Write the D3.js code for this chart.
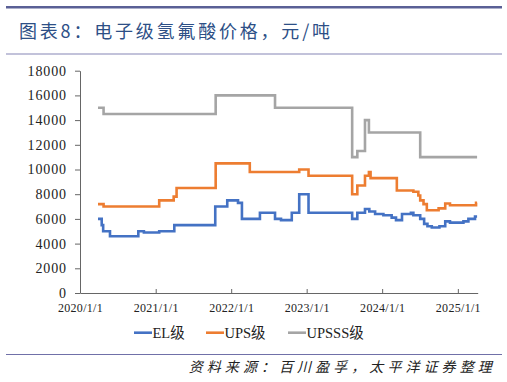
<!DOCTYPE html>
<html>
<head>
<meta charset="utf-8">
<script src="https://cdn.jsdelivr.net/npm/d3@7"></script>
<style>
  html, body { margin: 0; padding: 0; background: #fff; }
  svg { display: block; }
</style>
</head>
<body>
<svg id="chart" width="507" height="382"></svg>
<script>
// ---------- data ----------
const titleText = "图表8：电子级氢氟酸价格，元/吨";
const sourceText = "资料来源：百川盈孚，太平洋证券整理";
const seriesNames = ["EL级", "UPS级", "UPSSS级"];
const seriesColors = ["#4472C4", "#ED7D31", "#A5A5A5"];

const elDates = ["2020-03-28","2020-04-15","2020-04-22","2020-05-25","2020-10-09","2020-11-05","2021-01-18","2021-04-01","2021-10-16","2021-12-13","2022-02-03","2022-02-22","2022-05-20","2022-08-01","2022-08-30","2022-10-21","2022-11-26","2023-01-10","2023-08-09","2023-09-03","2023-10-10","2023-10-31","2023-11-28","2024-01-07","2024-02-16","2024-03-08","2024-04-06","2024-05-19","2024-05-31","2024-07-03","2024-07-22","2024-08-07","2024-08-28","2024-10-04","2024-11-01","2024-11-24","2025-01-28","2025-02-21","2025-03-25","2025-04-04"];
const elValues = [6000,5500,5000,4600,5000,4900,5000,5500,7000,7500,7300,6000,6500,6000,5900,6500,8000,6500,6000,6500,6800,6600,6400,6300,6100,5900,6400,6500,6300,6000,5600,5400,5300,5400,5800,5700,5800,6000,6200,6200];

const upsDates = ["2020-03-28","2020-04-24","2021-01-18","2021-03-29","2021-04-12","2021-10-18","2022-04-01","2022-11-26","2023-01-10","2023-08-09","2023-09-03","2023-10-10","2023-10-29","2023-11-06","2024-03-12","2024-05-31","2024-06-24","2024-07-03","2024-07-19","2024-08-04","2024-09-30","2024-11-01","2024-11-24","2025-03-30","2025-04-04"];
const upsValues = [7200,7000,7500,7800,8500,10500,9800,10000,9500,8000,8700,9500,9800,9300,8300,8200,7900,7500,7200,6700,6850,7250,7100,7300,7300];

const upsssDates = ["2020-03-28","2020-04-24","2021-10-18","2022-08-01","2023-08-09","2023-09-03","2023-10-10","2023-10-29","2024-07-03","2025-04-04"];
const upsssValues = [15000,14500,16000,15000,11000,11500,14000,13000,11000,11000];

const xTickDates = ["2020-01-01","2021-01-01","2022-01-01","2023-01-01","2024-01-01","2025-01-01"];
const xDomain = ["2020-01-01","2025-04-07"];
const yTicks = [0,2000,4000,6000,8000,10000,12000,14000,16000,18000];

// ---------- drawing ----------
const parse = d3.utcParse("%Y-%m-%d");
const svg = d3.select("#chart");

// header rules and title
svg.append("rect").attr("x", 6).attr("y", 6).attr("width", 496).attr("height", 2.5).attr("fill", "#5a6096");
svg.append("text").text(titleText)
  .attr("x", 19).attr("y", 38)
  .style("font-family", "'Noto Sans CJK SC', sans-serif")
  .style("font-size", "18px").attr("fill", "#2d4f86")
  .attr("textLength", 311).attr("lengthAdjust", "spacing");
svg.append("rect").attr("x", 6).attr("y", 53.5).attr("width", 496).attr("height", 1).attr("fill", "#8585b5");

// scales
const x = d3.scaleUtc().domain(xDomain.map(parse)).range([80, 477.7]);
const y = d3.scaleLinear().domain([0, 18000]).range([293, 70.7]);

// axes
const serif = "'Liberation Serif', 'Times New Roman', serif";
const yAxis = svg.append("g").attr("transform", "translate(80,0)")
  .call(d3.axisLeft(y).tickValues(yTicks).tickSize(5).tickSizeOuter(0).tickPadding(8).tickFormat(d3.format("d")));
yAxis.attr("font-family", null).attr("font-size", null);
yAxis.selectAll("text").style("font-family", serif).style("font-size", "14px").attr("fill", "#222").attr("letter-spacing", 0.9);
yAxis.selectAll("line, path").attr("stroke", "#666");

const fmt = d3.utcFormat("%Y/%-m/%-d");
const xAxis = svg.append("g").attr("transform", "translate(0,293)")
  .call(d3.axisBottom(x).tickValues(xTickDates.map(parse)).tickSize(-4).tickSizeOuter(0).tickPadding(10).tickFormat(fmt));
xAxis.attr("font-family", null).attr("font-size", null);
xAxis.selectAll("text").style("font-family", serif).style("font-size", "12px").attr("fill", "#222").attr("letter-spacing", 0.3);
xAxis.selectAll("line, path").attr("stroke", "#666");

// series
const series = [
  { name: seriesNames[0], color: seriesColors[0], dates: elDates, values: elValues },
  { name: seriesNames[1], color: seriesColors[1], dates: upsDates, values: upsValues },
  { name: seriesNames[2], color: seriesColors[2], dates: upsssDates, values: upsssValues }
];
const line = d3.line().curve(d3.curveStepAfter).x(d => x(d[0])).y(d => y(d[1]));
series.slice().reverse().forEach(s => {
  const pts = s.dates.map((d, i) => [parse(d), s.values[i]]);
  svg.append("path").datum(pts).attr("d", line)
    .attr("fill", "none").attr("stroke", s.color).attr("stroke-width", 2.6)
    .attr("stroke-linejoin", "miter");
});

// legend
const legendX = [134, 206, 288];
const lg = svg.append("g");
series.forEach((s, i) => {
  lg.append("line").attr("x1", legendX[i]).attr("x2", legendX[i] + 18)
    .attr("y1", 332.7).attr("y2", 332.7).attr("stroke", s.color).attr("stroke-width", 2.6);
  lg.append("text").text(s.name).attr("x", legendX[i] + 18.5).attr("y", 338)
    .style("font-family", serif + ", 'Noto Sans CJK SC'").style("font-size", "14.5px").attr("fill", "#222");
});

// footer
svg.append("rect").attr("x", 6).attr("y", 354).attr("width", 496).attr("height", 1).attr("fill", "#7070a8");
svg.append("text").text(sourceText)
  .attr("x", 491.7).attr("y", 372).attr("text-anchor", "end")
  .style("font-family", "'Noto Sans CJK SC', sans-serif").style("font-style", "italic")
  .style("font-size", "14px").attr("fill", "#222")
  .attr("textLength", 303).attr("lengthAdjust", "spacing");
</script>
</body>
</html>
